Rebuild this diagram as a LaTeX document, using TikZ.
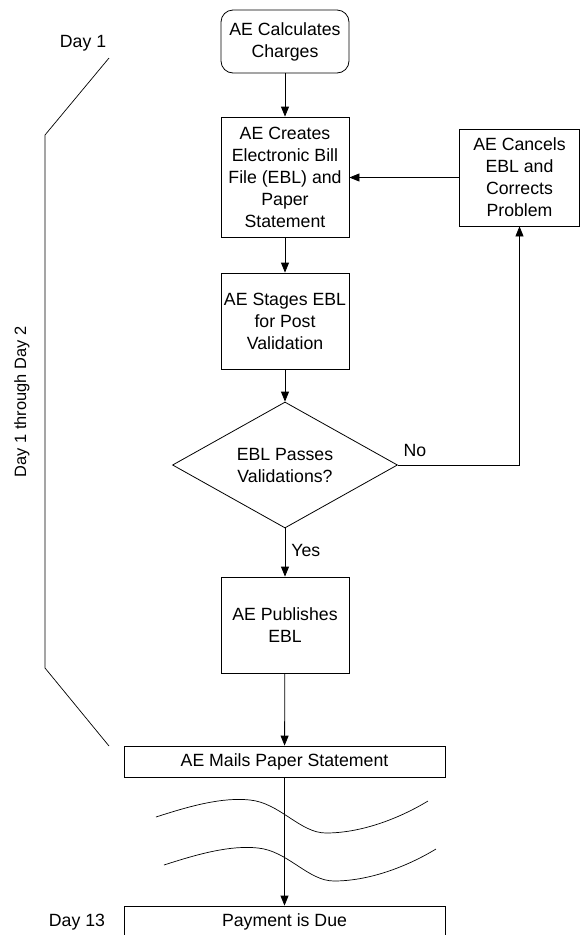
\documentclass[tikz,border=0pt]{standalone}
\usepackage{fontspec}
\setmainfont{Liberation Sans}
\usetikzlibrary{shapes.geometric,arrows.meta}
\begin{document}
\begin{tikzpicture}[x=1pt,y=-1pt,
  every node/.style={font=\fontsize{17.7}{22}\selectfont, inner sep=0pt, align=center},
  procbox/.style={draw, line width=0.8pt, minimum width=128pt},
  widebox/.style={draw, line width=0.8pt, minimum width=321pt, minimum height=31pt},
  flow/.style={line width=0.8pt, -{Triangle[length=10pt,width=8pt]}},
  plain/.style={line width=0.7pt}]
\useasboundingbox (0,0) rectangle (581,935);

% process steps
\node[procbox, rounded corners=12pt, minimum height=63pt] (calc) at (285,41.5) {AE Calculates\\Charges};
\node[procbox, minimum height=120pt] (create) at (285,177) {AE Creates\\Electronic Bill\\File (EBL) and\\Paper\\Statement};
\node[procbox, minimum width=120pt, minimum height=97pt] (cancel) at (519.5,177.5) {AE Cancels\\EBL and\\Corrects\\Problem};
\node[procbox, minimum height=96pt] (stage) at (285,321) {AE Stages EBL\\for Post\\Validation};
\node[draw, line width=0.8pt, diamond, aspect=1.79, minimum width=225pt, minimum height=126pt] (valid) at (285,465) {EBL Passes\\Validations?};
\node[procbox, minimum height=96pt] (publish) at (285,625) {AE Publishes\\EBL};
\node[widebox] (mail) at (284.5,761.5) {AE Mails Paper Statement};
\node[widebox] (due) at (284.5,921.5) {Payment is Due};

% connectors
\draw[flow] (calc) -- (create);
\draw[flow] (create) -- (stage);
\draw[flow] (stage) -- (valid);
\draw[flow] (valid) -- node[pos=0.45, right=6pt] {Yes} (publish);
\draw[flow] (publish) -- (mail);
\draw[flow] (mail) -- (due);
\coordinate (turn) at (cancel.south |- valid.east);
\draw[flow] (valid.east) -- node[pos=0.14, above=8pt] {No} (turn) -- (cancel.south);
\draw[flow] (cancel.west) -- (create.east |- cancel.west);

% time axis
\node (day1) at (83,43) {Day 1};
\node (day13) at (77,922) {Day 13};
\node[rotate=90, font=\fontsize{16.4}{20}\selectfont] (span) at (22,402) {Day 1 through Day 2};
\coordinate (bt) at (109,58);
\coordinate (bb) at (109,746);
\draw[plain] (bt) -- (45,135) -- (45,668) -- (bb);

% elapsed time breaks
\draw[plain] (156,817) .. controls (190,806) and (222,797) .. (250,800)
  .. controls (280,803) and (300,833) .. (326,833)
  .. controls (362,833) and (400,818) .. (428,801);
\draw[plain, shift={(8,48)}] (156,817) .. controls (190,806) and (222,797) .. (250,800)
  .. controls (280,803) and (300,833) .. (326,833)
  .. controls (362,833) and (400,818) .. (428,801);
\end{tikzpicture}
\end{document}
